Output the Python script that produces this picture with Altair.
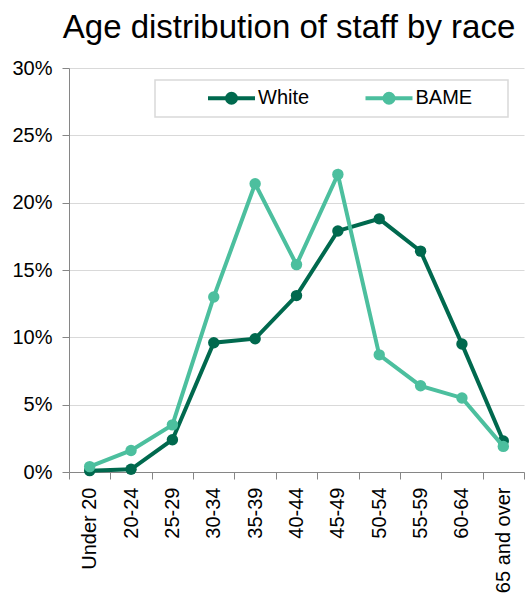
import altair as alt
import pandas as pd

# Age bands (x axis) and share of staff in each band, per group (percent)
age_bands = ["Under 20", "20-24", "25-29", "30-34", "35-39", "40-44",
             "45-49", "50-54", "55-59", "60-64", "65 and over"]
white_pct = [0.1, 0.2, 2.4, 9.6, 9.9, 13.1, 17.9, 18.8, 16.4, 9.5, 2.3]
bame_pct = [0.4, 1.6, 3.5, 13.0, 21.4, 15.4, 22.1, 8.7, 6.4, 5.5, 1.9]
groups = ["White", "BAME"]
colors = ["#00694E", "#4CBF9E"]
y_ticks = [0, 0.05, 0.10, 0.15, 0.20, 0.25, 0.30]

rows = []
for g, vals in zip(groups, [white_pct, bame_pct]):
    for band, v in zip(age_bands, vals):
        rows.append({"group": g, "age": band, "share": v / 100})
df = pd.DataFrame(rows)

FONT = "Liberation Sans"

# legend symbol: a short line with a solid dot in the middle (stroked path)
line_dot = ("M-4.7,0H4.7"
            "M0.9,0A0.9,0.9,0,1,1,-0.9,0A0.9,0.9,0,1,1,0.9,0"
            "M0.3,0A0.3,0.3,0,1,1,-0.3,0A0.3,0.3,0,1,1,0.3,0")

legend = alt.Legend(
    title=None, orient="none", legendX=152.5, legendY=20,
    direction="horizontal", labelFontSize=20, labelFont=FONT,
    labelColor="#000000", labelOffset=16.5, columnPadding=47.5,
    symbolSize=100, symbolType=line_dot, symbolStrokeWidth=4,
    padding=0,
)

x_enc = alt.X(
    "age:N", sort=age_bands, bandPosition=0.5,
    scale=alt.Scale(type="band", paddingInner=0, paddingOuter=0),
    axis=alt.Axis(title=None, labelAngle=-90, tickBand="extent", tickSize=7,
                  labelPadding=8, labelFontSize=20, labelFont=FONT,
                  labelColor="#000000", domainColor="#868686",
                  tickColor="#868686", grid=False),
)
y_enc = alt.Y(
    "share:Q", scale=alt.Scale(domain=[0, 0.3], nice=False),
    axis=alt.Axis(title=None, values=y_ticks, format=".0%", tickSize=7,
                  labelPadding=10, labelFontSize=20, labelFont=FONT,
                  labelColor="#000000", domainColor="#868686",
                  tickColor="#868686", gridColor="#D9D9D9"),
)
color_enc = alt.Color("group:N", scale=alt.Scale(domain=groups, range=colors),
                      sort=groups, legend=legend)

frame = alt.Chart(pd.DataFrame({"k": [0]})).mark_rect(
    fill="white", stroke="#D9D9D9", strokeWidth=1.5
).encode(x=alt.value(86), x2=alt.value(439), y=alt.value(12), y2=alt.value(49))

lines = alt.Chart(df).mark_line(strokeWidth=4).encode(
    x=x_enc, y=y_enc, color=color_enc, detail="group:N"
)
dots = alt.Chart(df).mark_circle(size=130, opacity=1).encode(
    x=x_enc, y=y_enc, color=color_enc
)

# White drawn first, BAME on top
lines_white = lines.transform_filter(alt.datum.group == "White")
lines_bame = lines.transform_filter(alt.datum.group == "BAME")
dots_white = dots.transform_filter(alt.datum.group == "White")
dots_bame = dots.transform_filter(alt.datum.group == "BAME")

chart = alt.layer(
    frame, lines_white, dots_white, lines_bame, dots_bame
).properties(
    width=455, height=404,
    autosize=alt.AutoSizeParams(type="none"),
    padding={"left": 69, "top": 68, "right": 1, "bottom": 124},
    title=alt.TitleParams(
        "Age distribution of staff by race", fontSize=33, font=FONT,
        fontWeight="normal", color="#000000", anchor="middle",
        frame="group", baseline="alphabetic", offset=4, dx=-7.5, dy=17,
    ),
).configure_view(stroke=None)

chart.save("out.html", embed_options={"renderer": "svg", "actions": False})
